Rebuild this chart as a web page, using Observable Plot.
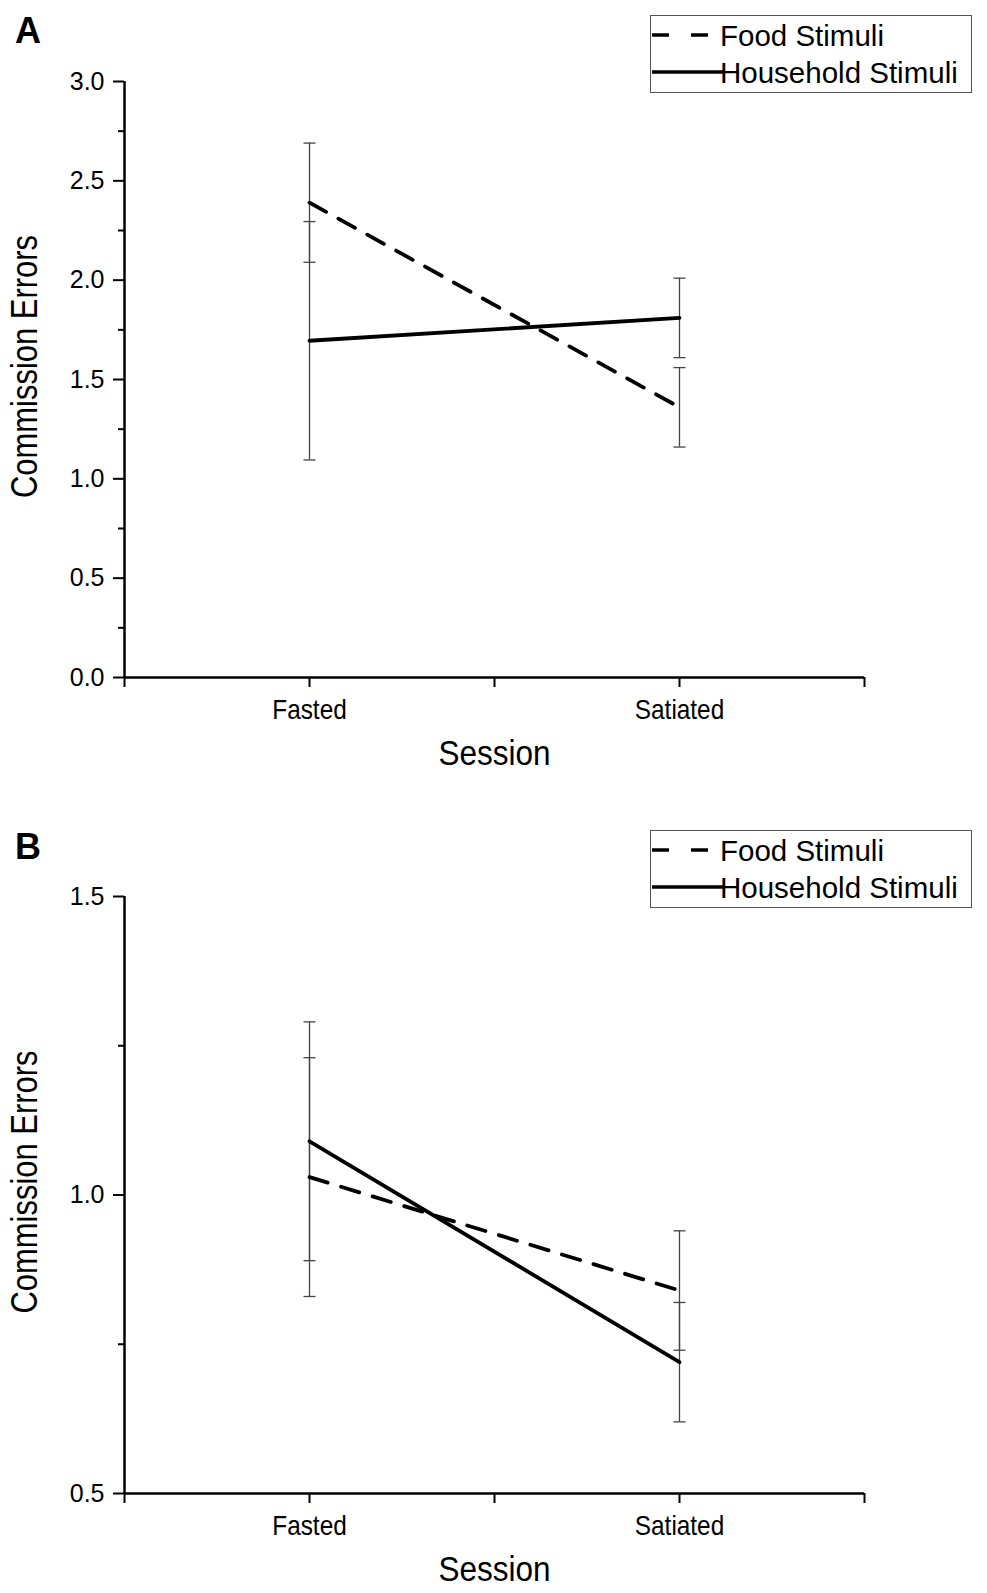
<!DOCTYPE html>
<html><head><meta charset="utf-8">
<script src="https://cdn.jsdelivr.net/npm/d3@7"></script>
<script src="https://cdn.jsdelivr.net/npm/@observablehq/plot@0.6"></script>
<style>
body{margin:0;background:#fff;font-family:"Liberation Sans",Arial,sans-serif;}
#wrap{position:relative;width:987px;height:1593px;overflow:hidden;}
.panel{position:absolute;left:0;}
.letter{position:absolute;left:15px;font-weight:bold;font-size:36px;line-height:1;font-family:"Liberation Sans",Arial,sans-serif;}
.legend{position:absolute;left:650px;width:322px;height:78px;box-sizing:border-box;border:1.5px solid #555;background:#fff;}
</style></head><body>
<div id="wrap"></div>
<script>
// ---- data ----
const sessions = ["Fasted", "Satiated"];
const sessionPos = [1, 2];
const series = ["Food Stimuli", "Household Stimuli"];

const foodA = [2.39, 1.36];
const foodErrA = [0.30, 0.20];
const houseA = [1.695, 1.81];
const houseErrA = [0.60, 0.20];

const foodB = [1.03, 0.84];
const foodErrB = [0.20, 0.10];
const houseB = [1.09, 0.72];
const houseErrB = [0.20, 0.10];

const yMajorA = [0, 0.5, 1.0, 1.5, 2.0, 2.5, 3.0];
const yMinorA = [0.25, 0.75, 1.25, 1.75, 2.25, 2.75];
const yMajorB = [0.5, 1.0, 1.5];
const yMinorB = [0.75, 1.25];
const xTicks = [0.5, 1, 1.5, 2, 2.5];

const yLabel = "Commission Errors";
const xLabel = "Session";
const panelLetters = ["A", "B"];

// ---- helpers ----
function rowsFor(food, foodErr, house, houseErr) {
  const rows = [];
  [[food, foodErr], [house, houseErr]].forEach(([vals, errs], s) => {
    vals.forEach((v, i) => rows.push({
      series: series[s], session: sessions[i], x: sessionPos[i],
      y: v, lo: v - errs[i], hi: v + errs[i]
    }));
  });
  return rows;
}
const xLabelMap = new Map(sessionPos.map((p, i) => [p, sessions[i]]));
const capSymbol = {draw(ctx, size) { const r = Math.sqrt(size / Math.PI); ctx.moveTo(-r, 0); ctx.lineTo(r, 0); }};
const regular = "'Liberation Sans', Arial, sans-serif";

function makePanel(rows, yDomain, major, minor, height, mt, mb) {
  const food = rows.filter(d => d.series === series[0]);
  const house = rows.filter(d => d.series === series[1]);
  return Plot.plot({
    width: 987, height, marginLeft: 124, marginRight: 123, marginTop: mt, marginBottom: mb,
    style: {background: "white", overflow: "visible", color: "black"},
    x: {domain: [0.5, 2.5]},
    y: {domain: yDomain},
    marks: [
      Plot.axisY({ticks: major, tickSize: 11, tickPadding: 9, tickFormat: d3.format(".1f"), fontSize: 25, fontFamily: regular, label: null, strokeWidth: 2}),
      Plot.axisY({ticks: minor, tickSize: 6, tickFormat: () => "", label: null, strokeWidth: 2}),
      Plot.axisX({ticks: xTicks, tickSize: 10, tickPadding: 12, tickFormat: d => xLabelMap.get(d) ?? "", fontSize: 28, fontFamily: regular, label: null, strokeWidth: 2}),
      Plot.ruleX([0.5], {strokeWidth: 2.5}),
      Plot.ruleY([yDomain[0]], {strokeWidth: 2.5}),
      Plot.ruleX(rows, {x: "x", y1: "lo", y2: "hi", stroke: "#444", strokeWidth: 1.3}),
      Plot.dot(rows, {x: "x", y: "lo", symbol: capSymbol, r: 6, stroke: "#444", strokeWidth: 1.3, fill: "none"}),
      Plot.dot(rows, {x: "x", y: "hi", symbol: capSymbol, r: 6, stroke: "#444", strokeWidth: 1.3, fill: "none"}),
      Plot.line(food, {x: "x", y: "y", stroke: "black", strokeWidth: 3.8, strokeDasharray: "19,14"}),
      Plot.line(house, {x: "x", y: "y", stroke: "black", strokeWidth: 3.8}),
      Plot.text([yLabel], {frameAnchor: "left", rotate: -90, dx: -99, dy: -13, textAnchor: "middle", lineAnchor: "middle", fontSize: 36, fontFamily: regular, fill: "black"}),
      Plot.text([xLabel], {frameAnchor: "bottom", dy: 76, textAnchor: "middle", lineAnchor: "middle", fontSize: 35, fontFamily: regular, fill: "black"})
    ]
  });
}

// condense text (the original uses a narrow sans face)
const condenseFactor = new Map([[yLabel, 0.86], [xLabel, 0.9], [sessions[0], 0.87], [sessions[1], 0.87]]);
function condense(svg) {
  svg.querySelectorAll("text").forEach(t => {
    const f = condenseFactor.get(t.textContent);
    if (!f) return;
    const len = t.getComputedTextLength();
    t.setAttribute("textLength", (len * f).toFixed(1));
    t.setAttribute("lengthAdjust", "spacingAndGlyphs");
  });
}

function makeLegend(top) {
  const div = document.createElement("div");
  div.className = "legend";
  div.style.top = top + "px";
  const svg = d3.create("svg").attr("width", 320).attr("height", 76).style("position", "absolute").style("left", "0").style("top", "0");
  const rowsY = [19, 56];
  series.forEach((s, i) => {
    svg.append("line").attr("x1", 1).attr("x2", i === 0 ? 58 : 72).attr("y1", rowsY[i]).attr("y2", rowsY[i])
      .attr("stroke", "black").attr("stroke-width", 3.5).attr("stroke-dasharray", i === 0 ? "17,22" : null);
    svg.append("text").attr("x", 69).attr("y", rowsY[i]).attr("dy", "0.36em").attr("font-size", 29.5)
      .attr("font-family", regular).text(s);
  });
  div.appendChild(svg.node());
  return div;
}

const wrap = document.getElementById("wrap");
const pA = makePanel(rowsFor(foodA, foodErrA, houseA, houseErrA), [0, 3], yMajorA, yMinorA, 800, 81, 123);
pA.classList.add("panel"); pA.style.top = "0px";
wrap.appendChild(pA);
const pB = makePanel(rowsFor(foodB, foodErrB, houseB, houseErrB), [0.5, 1.5], yMajorB, yMinorB, 793, 96, 100);
pB.classList.add("panel"); pB.style.top = "800px";
wrap.appendChild(pB);
condense(pA); condense(pB);

wrap.appendChild(makeLegend(15));
wrap.appendChild(makeLegend(830));

[13, 829].forEach((t, i) => {
  const d = document.createElement("div");
  d.className = "letter"; d.style.top = t + "px"; d.textContent = panelLetters[i];
  wrap.appendChild(d);
});
</script>
</body></html>
